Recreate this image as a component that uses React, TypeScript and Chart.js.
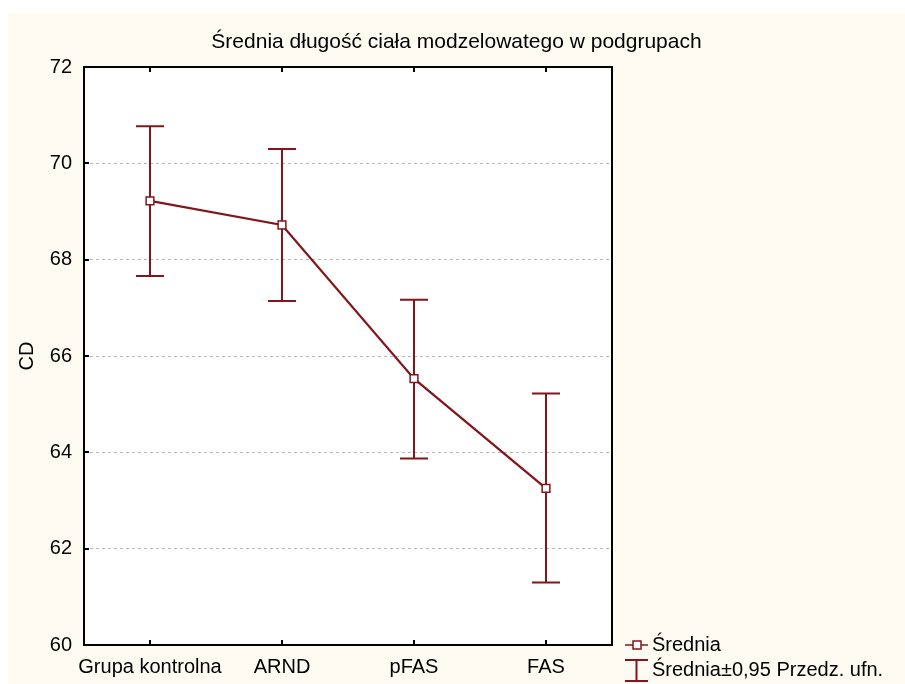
import React, { useEffect, useRef } from "react";
import { Chart, registerables } from "chart.js";

Chart.register(...registerables);

const TITLE = "Średnia długość ciała modzelowatego w podgrupach";
const Y_TITLE = "CD";
const categories = ["Grupa kontrolna", "ARND", "pFAS", "FAS"];
const means = [69.22, 68.72, 65.53, 63.25];
const upper = [70.77, 70.3, 67.17, 65.22];
const lower = [67.66, 67.14, 63.87, 61.3];
const Y_MIN = 60;
const Y_MAX = 72;
const Y_STEP = 2;
const legendLabels = ["Średnia", "Średnia±0,95 Przedz. ufn."];

const MAROON = "#82161c";
const CREAM = "#fefbf2";
const FONT = "'Liberation Sans', Arial, sans-serif";

export default function App() {
  const ref = useRef<HTMLCanvasElement | null>(null);

  useEffect(() => {
    if (!ref.current) return;

    const bgPlugin = {
      id: "bg",
      beforeDraw(chart: any) {
        const { ctx, chartArea: a } = chart;
        ctx.save();
        ctx.fillStyle = CREAM;
        ctx.fillRect(0, 0, chart.width, chart.height);
        ctx.fillStyle = "#ffffff";
        ctx.fillRect(a.left, a.top, a.right - a.left, a.bottom - a.top);
        ctx.restore();
      },
    };

    const errPlugin = {
      id: "errbars",
      beforeDatasetsDraw(chart: any) {
        const { ctx } = chart;
        const xs = chart.scales.x;
        const ys = chart.scales.y;
        ctx.save();
        ctx.strokeStyle = MAROON;
        ctx.lineWidth = 2;
        for (let i = 0; i < categories.length; i++) {
          const x = Math.round(xs.getPixelForValue(i));
          const yu = ys.getPixelForValue(upper[i]);
          const yl = ys.getPixelForValue(lower[i]);
          ctx.beginPath();
          ctx.moveTo(x, yu);
          ctx.lineTo(x, yl);
          ctx.moveTo(x - 14, yu);
          ctx.lineTo(x + 14, yu);
          ctx.moveTo(x - 14, yl);
          ctx.lineTo(x + 14, yl);
          ctx.stroke();
        }
        ctx.restore();
      },
    };

    const framePlugin = {
      id: "frame",
      afterDraw(chart: any) {
        const { ctx, chartArea: a } = chart;
        const xs = chart.scales.x;
        const ys = chart.scales.y;
        ctx.save();
        ctx.strokeStyle = "#000";
        ctx.lineWidth = 2;
        ctx.strokeRect(a.left, a.top, a.right - a.left, a.bottom - a.top);
        ctx.beginPath();
        for (let i = 0; i < categories.length; i++) {
          const x = Math.round(xs.getPixelForValue(i));
          ctx.moveTo(x, a.top);
          ctx.lineTo(x, a.top + 5);
          ctx.moveTo(x, a.bottom);
          ctx.lineTo(x, a.bottom - 5);
        }
        for (let v = Y_MIN; v <= Y_MAX; v += Y_STEP) {
          const y = Math.round(ys.getPixelForValue(v));
          ctx.moveTo(a.left, y);
          ctx.lineTo(a.left + 5, y);
        }
        ctx.stroke();

        // legend
        const lx = 617;
        const tx = 644;
        const y1 = 632;
        const y2 = 657;
        ctx.strokeStyle = MAROON;
        ctx.lineWidth = 1.5;
        ctx.beginPath();
        ctx.moveTo(lx, y1);
        ctx.lineTo(lx + 23, y1);
        ctx.stroke();
        ctx.fillStyle = "#fff";
        ctx.fillRect(lx + 8, y1 - 4, 8, 8);
        ctx.strokeRect(lx + 8, y1 - 4, 8, 8);
        ctx.lineWidth = 2;
        ctx.beginPath();
        ctx.moveTo(lx + 11.5, y2 - 10);
        ctx.lineTo(lx + 11.5, y2 + 11);
        ctx.moveTo(lx, y2 - 10);
        ctx.lineTo(lx + 23, y2 - 10);
        ctx.moveTo(lx, y2 + 11);
        ctx.lineTo(lx + 23, y2 + 11);
        ctx.stroke();
        ctx.fillStyle = "#000";
        ctx.font = `20px ${FONT}`;
        ctx.textBaseline = "middle";
        ctx.textAlign = "left";
        ctx.fillText(legendLabels[0], tx, y1);
        ctx.fillText(legendLabels[1], tx, y2);
        ctx.restore();
      },
    };

    const chart = new Chart(ref.current, {
      type: "line",
      data: {
        labels: categories,
        datasets: [
          {
            label: legendLabels[0],
            data: means,
            borderColor: MAROON,
            borderWidth: 2.2,
            pointStyle: "rect",
            pointRadius: 5.5,
            pointBackgroundColor: "#ffffff",
            pointBorderColor: MAROON,
            pointBorderWidth: 1.5,
            fill: false,
            tension: 0,
            yAxisID: "y",
            xAxisID: "x",
          },
        ],
      },
      options: {
        responsive: false,
        animation: false,
        devicePixelRatio: 1,
        layout: { padding: 0 },
        plugins: {
          legend: { display: false },
          tooltip: { enabled: false },
          title: {
            display: true,
            text: TITLE,
            color: "#000",
            font: { family: FONT, size: 21, weight: "normal" },
            padding: { top: 16.4, bottom: 12.4 },
          },
        },
        scales: {
          x: {
            type: "category",
            offset: true,
            grid: { display: false },
            border: { display: false },
            ticks: {
              color: "#000",
              font: { family: FONT, size: 20 },
              padding: 2,
              maxRotation: 0,
              autoSkip: false,
            },
            afterFit(s: any) {
              s.height = 39;
            },
          },
          y: {
            type: "linear",
            position: "left",
            min: Y_MIN,
            max: Y_MAX,
            ticks: {
              stepSize: Y_STEP,
              color: "#000",
              font: { family: FONT, size: 20 },
              padding: 12,
            },
            grid: {
              drawTicks: false,
              lineWidth: 1,
              color: (c: any) =>
                c.tick && (c.tick.value === Y_MIN || c.tick.value === Y_MAX)
                  ? "rgba(0,0,0,0)"
                  : "#b8b8b8",
            },
            border: { display: false, dash: [3, 3] },
            title: {
              display: true,
              text: Y_TITLE,
              color: "#000",
              font: { family: FONT, size: 20 },
              padding: { top: 7.5, bottom: 0 },
            },
            afterFit(s: any) {
              s.width = 76;
            },
          },
          yR: {
            type: "linear",
            position: "right",
            grid: { display: false },
            border: { display: false },
            ticks: { display: false },
            afterFit(s: any) {
              s.width = 293;
            },
          },
        },
      } as any,
      plugins: [bgPlugin, errPlugin, framePlugin],
    });

    return () => chart.destroy();
  }, []);

  return (
    <div
      style={{
        position: "fixed",
        left: 8,
        top: 13,
        width: 897,
        height: 671,
        background: CREAM,
      }}
    >
      <canvas ref={ref} width={897} height={671} style={{ display: "block" }} />
    </div>
  );
}
